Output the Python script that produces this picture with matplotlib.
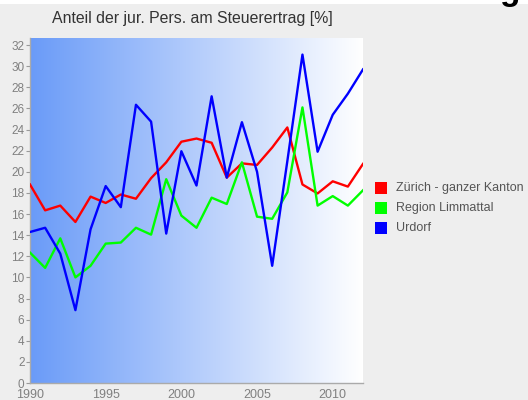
import numpy as np
import matplotlib
matplotlib.use('Agg')
import matplotlib.pyplot as plt
from matplotlib.colors import LinearSegmentedColormap

plt.rcParams['font.family'] = ['Liberation Sans', 'DejaVu Sans']

years = list(range(1990, 2013))
zuerich = [18.8, 16.35, 16.8, 15.25, 17.65, 17.05, 17.85, 17.45, 19.4, 20.9, 22.85, 23.15,
           22.75, 19.45, 20.8, 20.65, 22.3, 24.2, 18.8, 17.95, 19.1, 18.6, 20.75]
limmattal = [12.35, 10.9, 13.7, 10.0, 11.1, 13.2, 13.3, 14.7, 14.05, 19.3, 15.85, 14.7,
             17.55, 16.95, 20.9, 15.75, 15.55, 18.05, 26.1, 16.8, 17.7, 16.8, 18.25]
urdorf = [14.3, 14.7, 12.25, 6.9, 14.55, 18.65, 16.65, 26.35, 24.75, 14.15, 21.95, 18.7,
          27.15, 19.45, 24.7, 20.0, 11.1, 21.0, 31.1, 21.9, 25.4, 27.4, 29.7]
names = ['Zürich - ganzer Kanton', 'Region Limmattal', 'Urdorf']
colors = ['#ff0000', '#00ff00', '#0000ff']

fig = plt.figure(figsize=(5.28, 4.0), dpi=100)
fig.patch.set_facecolor('#eeeeee')

# white strip at the very top with part of a heading
fig.patches.append(plt.Rectangle((0, 0.99), 1, 0.01, transform=fig.transFigure,
                                 facecolor='white', edgecolor='none'))
fig.text(0.965, 1.0, 'g', fontsize=24, fontweight='bold', color='black',
         ha='center', va='baseline')

ax = fig.add_axes([30/528, 1-383/400, 333/528, (383-37.7)/400])

grad = LinearSegmentedColormap.from_list('bg', ['#6a9bf8', '#ffffff'])
ax.imshow(np.linspace(0, 1, 256).reshape(1, -1), cmap=grad, aspect='auto',
          extent=[0, 1, 0, 1], transform=ax.transAxes, zorder=0)

for vals, nm, c in zip([zuerich, limmattal, urdorf], names, colors):
    ax.plot(years, vals, color=c, lw=1.7, label=nm, zorder=3)

ax.set_xlim(1990, 2012)
ax.set_ylim(0, 32.7)
ax.set_xticks([1990, 1995, 2000, 2005, 2010])
ax.set_yticks(range(0, 33, 2))
ax.tick_params(axis='both', colors='#999999', labelcolor='#808080', labelsize=8.5,
               length=3, width=0.8, pad=1)
ax.tick_params(axis='x', length=0, pad=4, labelsize=9)
for s in ['top', 'right']:
    ax.spines[s].set_visible(False)
for s in ['left', 'bottom']:
    ax.spines[s].set_color('#aaaaaa')
    ax.spines[s].set_linewidth(1.0)

fig.text(192/528, 1-18/400, 'Anteil der jur. Pers. am Steuerertrag [%]', fontsize=11.4,
         color='#333333', ha='center', va='center')

# legend drawn next to the plot
for i, (nm, c) in enumerate(zip(names, colors)):
    yy = 1 - (188 + 20*i)/400
    fig.patches.append(plt.Rectangle((375/528, yy - 6/400), 12/528, 12/400,
                                     transform=fig.transFigure, facecolor=c,
                                     edgecolor='none'))
    fig.text(396/528, yy, nm, fontsize=9, color='#555555', ha='left', va='center')

fig.savefig('out.png', dpi=100, facecolor=fig.get_facecolor())
